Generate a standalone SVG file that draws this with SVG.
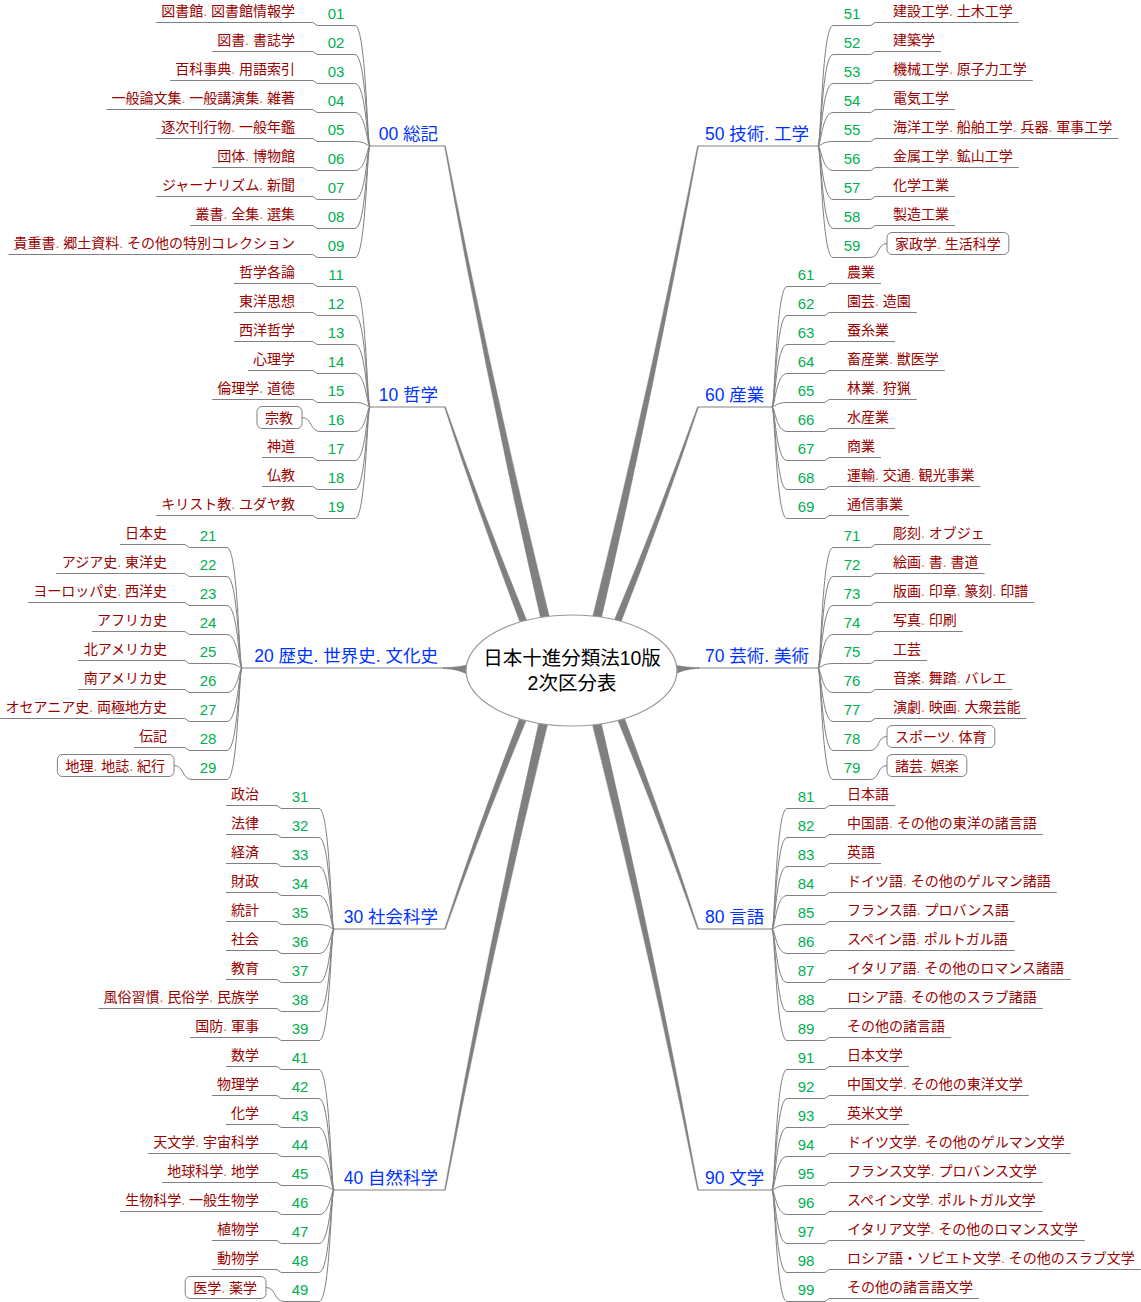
<svg xmlns="http://www.w3.org/2000/svg" width="1141" height="1302" viewBox="0 0 1141 1302">
<style>
.ln{fill:none;stroke:#808080;stroke-width:1}
.br{fill:#808080;stroke:#808080;stroke-width:0.4;stroke-linejoin:round}
.it{font-family:"Liberation Sans","Noto Sans CJK JP",sans-serif;font-size:14px;fill:#990000}
.l{text-anchor:end}
.d{fill:#e46c0a}
.nm{font-family:"Liberation Sans","Noto Sans CJK JP",sans-serif;font-size:15px;fill:#00b050;text-anchor:middle}
.lb{font-family:"Liberation Sans","Noto Sans CJK JP",sans-serif;font-size:17.5px;fill:#0033ff}
.bx{fill:#fff;stroke:#808080;stroke-width:1}
.ct{font-family:"Liberation Sans","Noto Sans CJK JP",sans-serif;font-size:19.5px;fill:#000;text-anchor:middle}
</style>
<rect width="1141" height="1302" fill="#fff"/>
<g id="connectors">
<path class="br" d="M444.5,146.1Q486.7,383.2 541.6,622.8L550.4,621Q491.5,382.2 445.5,145.9Z"/>
<path class="br" d="M444.5,407.2Q479.3,515.2 521.4,625.9L528,623.5Q483.1,513.8 445.5,406.8Z"/>
<path class="br" d="M443,667.6Q460,667.4 470,664L470,676Q460,669 443,668.4Z"/>
<path class="br" d="M444.5,928.8Q478.8,823.8 520.4,716.1L527,718.5Q482.6,825.2 445.5,929.2Z"/>
<path class="br" d="M444.5,1189.9Q485.7,955.8 539.6,719.2L548.4,721Q490.5,956.8 445.5,1190.1Z"/>
<path class="br" d="M698.5,146.1Q655.8,383.3 600.4,622.8L591.6,621Q651,382.3 697.5,145.9Z"/>
<path class="br" d="M698.5,407.2Q662.7,515.2 619.5,625.9L612.9,623.5Q658.9,513.8 697.5,406.8Z"/>
<path class="br" d="M699,667.6Q682,667.4 672,664L672,676Q682,669 699,668.4Z"/>
<path class="br" d="M698.5,928.8Q664.7,823.8 623.6,716.1L617,718.5Q660.9,825.2 697.5,929.2Z"/>
<path class="br" d="M698.5,1189.9Q655.8,955.7 600.3,719.1L591.5,721.1Q651,956.7 697.5,1190.1Z"/>
<path class="ln" d="M370,146H445M370,407H445M242,668H445M334,929H445M334,1190H445M698,146H818M698,407H772M697,668H818M698,929H772M698,1190H772"/>
<g class="ln" transform="translate(370,146)">
<path d="M-213.8,-123.5H-58C-55,-123.5 -55,-120.5 -52,-120.5H-15C-4,-120.5 -3,0 0,0"/>
<path d="M-157.8,-94.5H-58C-55,-94.5 -55,-91.5 -52,-91.5H-15C-4,-91.5 -3,0 0,0"/>
<path d="M-199.8,-65.5H-58C-55,-65.5 -55,-62.5 -52,-62.5H-15C-4,-62.5 -3,0 0,0"/>
<path d="M-263.6,-36.5H-58C-55,-36.5 -55,-33.5 -52,-33.5H-15C-4,-33.5 -3,0 0,0"/>
<path d="M-213.8,-7.5H-58C-55,-7.5 -55,-4.5 -52,-4.5H-15C-4,-4.5 -3,0 0,0"/>
<path d="M-157.8,21.5H-58C-55,21.5 -55,24.5 -52,24.5H-15C-4,24.5 -3,0 0,0"/>
<path d="M-213.8,50.5H-58C-55,50.5 -55,53.5 -52,53.5H-15C-4,53.5 -3,0 0,0"/>
<path d="M-179.6,79.5H-58C-55,79.5 -55,82.5 -52,82.5H-15C-4,82.5 -3,0 0,0"/>
<path d="M-361.6,108.5H-58C-55,108.5 -55,111.5 -52,111.5H-15C-4,111.5 -3,0 0,0"/>
</g>
<g class="ln" transform="translate(370,407)">
<path d="M-136,-123.5H-58C-55,-123.5 -55,-120.5 -52,-120.5H-15C-4,-120.5 -3,0 0,0"/>
<path d="M-136,-94.5H-58C-55,-94.5 -55,-91.5 -52,-91.5H-15C-4,-91.5 -3,0 0,0"/>
<path d="M-136,-65.5H-58C-55,-65.5 -55,-62.5 -52,-62.5H-15C-4,-62.5 -3,0 0,0"/>
<path d="M-122,-36.5H-58C-55,-36.5 -55,-33.5 -52,-33.5H-15C-4,-33.5 -3,0 0,0"/>
<path d="M-157.8,-7.5H-58C-55,-7.5 -55,-4.5 -52,-4.5H-15C-4,-4.5 -3,0 0,0"/>
<path d="M-68,10.5C-58,10.5 -60,24.5 -50,24.5H-15C-4,24.5 -3,0 0,0"/>
<path d="M-108,50.5H-58C-55,50.5 -55,53.5 -52,53.5H-15C-4,53.5 -3,0 0,0"/>
<path d="M-108,79.5H-58C-55,79.5 -55,82.5 -52,82.5H-15C-4,82.5 -3,0 0,0"/>
<path d="M-213.8,108.5H-58C-55,108.5 -55,111.5 -52,111.5H-15C-4,111.5 -3,0 0,0"/>
</g>
<g class="ln" transform="translate(242,668)">
<path d="M-122,-123.5H-58C-55,-123.5 -55,-120.5 -52,-120.5H-15C-4,-120.5 -3,0 0,0"/>
<path d="M-185.8,-94.5H-58C-55,-94.5 -55,-91.5 -52,-91.5H-15C-4,-91.5 -3,0 0,0"/>
<path d="M-213.8,-65.5H-58C-55,-65.5 -55,-62.5 -52,-62.5H-15C-4,-62.5 -3,0 0,0"/>
<path d="M-150,-36.5H-58C-55,-36.5 -55,-33.5 -52,-33.5H-15C-4,-33.5 -3,0 0,0"/>
<path d="M-164,-7.5H-58C-55,-7.5 -55,-4.5 -52,-4.5H-15C-4,-4.5 -3,0 0,0"/>
<path d="M-164,21.5H-58C-55,21.5 -55,24.5 -52,24.5H-15C-4,24.5 -3,0 0,0"/>
<path d="M-241.8,50.5H-58C-55,50.5 -55,53.5 -52,53.5H-15C-4,53.5 -3,0 0,0"/>
<path d="M-108,79.5H-58C-55,79.5 -55,82.5 -52,82.5H-15C-4,82.5 -3,0 0,0"/>
<path d="M-68,97.5C-58,97.5 -60,111.5 -50,111.5H-15C-4,111.5 -3,0 0,0"/>
</g>
<g class="ln" transform="translate(334,929)">
<path d="M-108,-123.5H-58C-55,-123.5 -55,-120.5 -52,-120.5H-15C-4,-120.5 -3,0 0,0"/>
<path d="M-108,-94.5H-58C-55,-94.5 -55,-91.5 -52,-91.5H-15C-4,-91.5 -3,0 0,0"/>
<path d="M-108,-65.5H-58C-55,-65.5 -55,-62.5 -52,-62.5H-15C-4,-62.5 -3,0 0,0"/>
<path d="M-108,-36.5H-58C-55,-36.5 -55,-33.5 -52,-33.5H-15C-4,-33.5 -3,0 0,0"/>
<path d="M-108,-7.5H-58C-55,-7.5 -55,-4.5 -52,-4.5H-15C-4,-4.5 -3,0 0,0"/>
<path d="M-108,21.5H-58C-55,21.5 -55,24.5 -52,24.5H-15C-4,24.5 -3,0 0,0"/>
<path d="M-108,50.5H-58C-55,50.5 -55,53.5 -52,53.5H-15C-4,53.5 -3,0 0,0"/>
<path d="M-235.6,79.5H-58C-55,79.5 -55,82.5 -52,82.5H-15C-4,82.5 -3,0 0,0"/>
<path d="M-143.8,108.5H-58C-55,108.5 -55,111.5 -52,111.5H-15C-4,111.5 -3,0 0,0"/>
</g>
<g class="ln" transform="translate(334,1190)">
<path d="M-108,-123.5H-58C-55,-123.5 -55,-120.5 -52,-120.5H-15C-4,-120.5 -3,0 0,0"/>
<path d="M-122,-94.5H-58C-55,-94.5 -55,-91.5 -52,-91.5H-15C-4,-91.5 -3,0 0,0"/>
<path d="M-108,-65.5H-58C-55,-65.5 -55,-62.5 -52,-62.5H-15C-4,-62.5 -3,0 0,0"/>
<path d="M-185.8,-36.5H-58C-55,-36.5 -55,-33.5 -52,-33.5H-15C-4,-33.5 -3,0 0,0"/>
<path d="M-171.8,-7.5H-58C-55,-7.5 -55,-4.5 -52,-4.5H-15C-4,-4.5 -3,0 0,0"/>
<path d="M-213.8,21.5H-58C-55,21.5 -55,24.5 -52,24.5H-15C-4,24.5 -3,0 0,0"/>
<path d="M-122,50.5H-58C-55,50.5 -55,53.5 -52,53.5H-15C-4,53.5 -3,0 0,0"/>
<path d="M-122,79.5H-58C-55,79.5 -55,82.5 -52,82.5H-15C-4,82.5 -3,0 0,0"/>
<path d="M-68,97.5C-58,97.5 -60,111.5 -50,111.5H-15C-4,111.5 -3,0 0,0"/>
</g>
<g class="ln" transform="translate(818,146)">
<path d="M0,0C3,0 4,-120.5 15,-120.5H52C55,-120.5 55,-123.5 58,-123.5H200.8"/>
<path d="M0,0C3,0 4,-91.5 15,-91.5H52C55,-91.5 55,-94.5 58,-94.5H123"/>
<path d="M0,0C3,0 4,-62.5 15,-62.5H52C55,-62.5 55,-65.5 58,-65.5H214.8"/>
<path d="M0,0C3,0 4,-33.5 15,-33.5H52C55,-33.5 55,-36.5 58,-36.5H137"/>
<path d="M0,0C3,0 4,-4.5 15,-4.5H52C55,-4.5 55,-7.5 58,-7.5H300.4"/>
<path d="M0,0C3,0 4,24.5 15,24.5H52C55,24.5 55,21.5 58,21.5H200.8"/>
<path d="M0,0C3,0 4,53.5 15,53.5H52C55,53.5 55,50.5 58,50.5H137"/>
<path d="M0,0C3,0 4,82.5 15,82.5H52C55,82.5 55,79.5 58,79.5H137"/>
<path d="M0,0C3,0 4,111.5 15,111.5H52C62,111.5 59,97.5 69,97.5"/>
</g>
<g class="ln" transform="translate(772,407)">
<path d="M0,0C3,0 4,-120.5 15,-120.5H52C55,-120.5 55,-123.5 58,-123.5H109"/>
<path d="M0,0C3,0 4,-91.5 15,-91.5H52C55,-91.5 55,-94.5 58,-94.5H144.8"/>
<path d="M0,0C3,0 4,-62.5 15,-62.5H52C55,-62.5 55,-65.5 58,-65.5H123"/>
<path d="M0,0C3,0 4,-33.5 15,-33.5H52C55,-33.5 55,-36.5 58,-36.5H172.8"/>
<path d="M0,0C3,0 4,-4.5 15,-4.5H52C55,-4.5 55,-7.5 58,-7.5H144.8"/>
<path d="M0,0C3,0 4,24.5 15,24.5H52C55,24.5 55,21.5 58,21.5H123"/>
<path d="M0,0C3,0 4,53.5 15,53.5H52C55,53.5 55,50.5 58,50.5H109"/>
<path d="M0,0C3,0 4,82.5 15,82.5H52C55,82.5 55,79.5 58,79.5H208.6"/>
<path d="M0,0C3,0 4,111.5 15,111.5H52C55,111.5 55,108.5 58,108.5H137"/>
</g>
<g class="ln" transform="translate(818,668)">
<path d="M0,0C3,0 4,-120.5 15,-120.5H52C55,-120.5 55,-123.5 58,-123.5H172.8"/>
<path d="M0,0C3,0 4,-91.5 15,-91.5H52C55,-91.5 55,-94.5 58,-94.5H166.6"/>
<path d="M0,0C3,0 4,-62.5 15,-62.5H52C55,-62.5 55,-65.5 58,-65.5H216.4"/>
<path d="M0,0C3,0 4,-33.5 15,-33.5H52C55,-33.5 55,-36.5 58,-36.5H144.8"/>
<path d="M0,0C3,0 4,-4.5 15,-4.5H52C55,-4.5 55,-7.5 58,-7.5H109"/>
<path d="M0,0C3,0 4,24.5 15,24.5H52C55,24.5 55,21.5 58,21.5H194.6"/>
<path d="M0,0C3,0 4,53.5 15,53.5H52C55,53.5 55,50.5 58,50.5H208.6"/>
<path d="M0,0C3,0 4,82.5 15,82.5H52C62,82.5 59,68.5 69,68.5"/>
<path d="M0,0C3,0 4,111.5 15,111.5H52C62,111.5 59,97.5 69,97.5"/>
</g>
<g class="ln" transform="translate(772,929)">
<path d="M0,0C3,0 4,-120.5 15,-120.5H52C55,-120.5 55,-123.5 58,-123.5H123"/>
<path d="M0,0C3,0 4,-91.5 15,-91.5H52C55,-91.5 55,-94.5 58,-94.5H270.8"/>
<path d="M0,0C3,0 4,-62.5 15,-62.5H52C55,-62.5 55,-65.5 58,-65.5H109"/>
<path d="M0,0C3,0 4,-33.5 15,-33.5H52C55,-33.5 55,-36.5 58,-36.5H284.8"/>
<path d="M0,0C3,0 4,-4.5 15,-4.5H52C55,-4.5 55,-7.5 58,-7.5H242.8"/>
<path d="M0,0C3,0 4,24.5 15,24.5H52C55,24.5 55,21.5 58,21.5H242.8"/>
<path d="M0,0C3,0 4,53.5 15,53.5H52C55,53.5 55,50.5 58,50.5H298.8"/>
<path d="M0,0C3,0 4,82.5 15,82.5H52C55,82.5 55,79.5 58,79.5H270.8"/>
<path d="M0,0C3,0 4,111.5 15,111.5H52C55,111.5 55,108.5 58,108.5H179"/>
</g>
<g class="ln" transform="translate(772,1190)">
<path d="M0,0C3,0 4,-120.5 15,-120.5H52C55,-120.5 55,-123.5 58,-123.5H137"/>
<path d="M0,0C3,0 4,-91.5 15,-91.5H52C55,-91.5 55,-94.5 58,-94.5H256.8"/>
<path d="M0,0C3,0 4,-62.5 15,-62.5H52C55,-62.5 55,-65.5 58,-65.5H137"/>
<path d="M0,0C3,0 4,-33.5 15,-33.5H52C55,-33.5 55,-36.5 58,-36.5H298.8"/>
<path d="M0,0C3,0 4,-4.5 15,-4.5H52C55,-4.5 55,-7.5 58,-7.5H270.8"/>
<path d="M0,0C3,0 4,24.5 15,24.5H52C55,24.5 55,21.5 58,21.5H270.8"/>
<path d="M0,0C3,0 4,53.5 15,53.5H52C55,53.5 55,50.5 58,50.5H312.8"/>
<path d="M0,0C3,0 4,82.5 15,82.5H52C55,82.5 55,79.5 58,79.5H368.8"/>
<path d="M0,0C3,0 4,111.5 15,111.5H52C55,111.5 55,108.5 58,108.5H207"/>
</g>
</g>
<g id="nodes">
<g id="center"><ellipse cx="571.5" cy="670.5" rx="105.5" ry="55.5" fill="#fff" stroke="#999" stroke-width="1.2"/><text class="ct" x="572" y="665">日本十進分類法10版</text><text class="ct" x="572" y="690">2次区分表</text></g>
<g id="b00"><text class="lb l" x="438" y="140">00 総記</text></g>
<g id="b10"><text class="lb l" x="438" y="401">10 哲学</text></g>
<g id="b20"><text class="lb l" x="438" y="662">20 歴史. 世界史. 文化史</text></g>
<g id="b30"><text class="lb l" x="438" y="923">30 社会科学</text></g>
<g id="b40"><text class="lb l" x="438" y="1184">40 自然科学</text></g>
<g id="b50"><text class="lb" x="705" y="140">50 技術. 工学</text></g>
<g id="b60"><text class="lb" x="705" y="401">60 産業</text></g>
<g id="b70"><text class="lb" x="705" y="662">70 芸術. 美術</text></g>
<g id="b80"><text class="lb" x="705" y="923">80 言語</text></g>
<g id="b90"><text class="lb" x="705" y="1184">90 文学</text></g>
<g transform="translate(370,146)">
<g id="n01"><text class="it l" x="-75" y="-130">図書館<tspan class="d">.</tspan> 図書館情報学</text><text class="nm" x="-34" y="-127">01</text></g>
<g id="n02"><text class="it l" x="-75" y="-101">図書<tspan class="d">.</tspan> 書誌学</text><text class="nm" x="-34" y="-98">02</text></g>
<g id="n03"><text class="it l" x="-75" y="-72">百科事典<tspan class="d">.</tspan> 用語索引</text><text class="nm" x="-34" y="-69">03</text></g>
<g id="n04"><text class="it l" x="-75" y="-43">一般論文集<tspan class="d">.</tspan> 一般講演集<tspan class="d">.</tspan> 雑著</text><text class="nm" x="-34" y="-40">04</text></g>
<g id="n05"><text class="it l" x="-75" y="-14">逐次刊行物<tspan class="d">.</tspan> 一般年鑑</text><text class="nm" x="-34" y="-11">05</text></g>
<g id="n06"><text class="it l" x="-75" y="15">団体<tspan class="d">.</tspan> 博物館</text><text class="nm" x="-34" y="18">06</text></g>
<g id="n07"><text class="it l" x="-75" y="44">ジャーナリズム<tspan class="d">.</tspan> 新聞</text><text class="nm" x="-34" y="47">07</text></g>
<g id="n08"><text class="it l" x="-75" y="73">叢書<tspan class="d">.</tspan> 全集<tspan class="d">.</tspan> 選集</text><text class="nm" x="-34" y="76">08</text></g>
<g id="n09"><text class="it l" x="-75" y="102">貴重書<tspan class="d">.</tspan> 郷土資料<tspan class="d">.</tspan> その他の特別コレクション</text><text class="nm" x="-34" y="105">09</text></g>
</g>
<g transform="translate(370,407)">
<g id="n11"><text class="it l" x="-75" y="-130">哲学各論</text><text class="nm" x="-34" y="-127">11</text></g>
<g id="n12"><text class="it l" x="-75" y="-101">東洋思想</text><text class="nm" x="-34" y="-98">12</text></g>
<g id="n13"><text class="it l" x="-75" y="-72">西洋哲学</text><text class="nm" x="-34" y="-69">13</text></g>
<g id="n14"><text class="it l" x="-75" y="-43">心理学</text><text class="nm" x="-34" y="-40">14</text></g>
<g id="n15"><text class="it l" x="-75" y="-14">倫理学<tspan class="d">.</tspan> 道徳</text><text class="nm" x="-34" y="-11">15</text></g>
<g id="n16"><rect class="bx" x="-113" y="-0.5" width="45" height="22" rx="5"/><text class="it l" x="-77" y="15.5">宗教</text><text class="nm" x="-34" y="18">16</text></g>
<g id="n17"><text class="it l" x="-75" y="44">神道</text><text class="nm" x="-34" y="47">17</text></g>
<g id="n18"><text class="it l" x="-75" y="73">仏教</text><text class="nm" x="-34" y="76">18</text></g>
<g id="n19"><text class="it l" x="-75" y="102">キリスト教<tspan class="d">.</tspan> ユダヤ教</text><text class="nm" x="-34" y="105">19</text></g>
</g>
<g transform="translate(242,668)">
<g id="n21"><text class="it l" x="-75" y="-130">日本史</text><text class="nm" x="-34" y="-127">21</text></g>
<g id="n22"><text class="it l" x="-75" y="-101">アジア史<tspan class="d">.</tspan> 東洋史</text><text class="nm" x="-34" y="-98">22</text></g>
<g id="n23"><text class="it l" x="-75" y="-72">ヨーロッパ史<tspan class="d">.</tspan> 西洋史</text><text class="nm" x="-34" y="-69">23</text></g>
<g id="n24"><text class="it l" x="-75" y="-43">アフリカ史</text><text class="nm" x="-34" y="-40">24</text></g>
<g id="n25"><text class="it l" x="-75" y="-14">北アメリカ史</text><text class="nm" x="-34" y="-11">25</text></g>
<g id="n26"><text class="it l" x="-75" y="15">南アメリカ史</text><text class="nm" x="-34" y="18">26</text></g>
<g id="n27"><text class="it l" x="-75" y="44">オセアニア史<tspan class="d">.</tspan> 両極地方史</text><text class="nm" x="-34" y="47">27</text></g>
<g id="n28"><text class="it l" x="-75" y="73">伝記</text><text class="nm" x="-34" y="76">28</text></g>
<g id="n29"><rect class="bx" x="-184.6" y="86.5" width="116.6" height="22" rx="5"/><text class="it l" x="-77" y="102.5">地理<tspan class="d">.</tspan> 地誌<tspan class="d">.</tspan> 紀行</text><text class="nm" x="-34" y="105">29</text></g>
</g>
<g transform="translate(334,929)">
<g id="n31"><text class="it l" x="-75" y="-130">政治</text><text class="nm" x="-34" y="-127">31</text></g>
<g id="n32"><text class="it l" x="-75" y="-101">法律</text><text class="nm" x="-34" y="-98">32</text></g>
<g id="n33"><text class="it l" x="-75" y="-72">経済</text><text class="nm" x="-34" y="-69">33</text></g>
<g id="n34"><text class="it l" x="-75" y="-43">財政</text><text class="nm" x="-34" y="-40">34</text></g>
<g id="n35"><text class="it l" x="-75" y="-14">統計</text><text class="nm" x="-34" y="-11">35</text></g>
<g id="n36"><text class="it l" x="-75" y="15">社会</text><text class="nm" x="-34" y="18">36</text></g>
<g id="n37"><text class="it l" x="-75" y="44">教育</text><text class="nm" x="-34" y="47">37</text></g>
<g id="n38"><text class="it l" x="-75" y="73">風俗習慣<tspan class="d">.</tspan> 民俗学<tspan class="d">.</tspan> 民族学</text><text class="nm" x="-34" y="76">38</text></g>
<g id="n39"><text class="it l" x="-75" y="102">国防<tspan class="d">.</tspan> 軍事</text><text class="nm" x="-34" y="105">39</text></g>
</g>
<g transform="translate(334,1190)">
<g id="n41"><text class="it l" x="-75" y="-130">数学</text><text class="nm" x="-34" y="-127">41</text></g>
<g id="n42"><text class="it l" x="-75" y="-101">物理学</text><text class="nm" x="-34" y="-98">42</text></g>
<g id="n43"><text class="it l" x="-75" y="-72">化学</text><text class="nm" x="-34" y="-69">43</text></g>
<g id="n44"><text class="it l" x="-75" y="-43">天文学<tspan class="d">.</tspan> 宇宙科学</text><text class="nm" x="-34" y="-40">44</text></g>
<g id="n45"><text class="it l" x="-75" y="-14">地球科学<tspan class="d">.</tspan> 地学</text><text class="nm" x="-34" y="-11">45</text></g>
<g id="n46"><text class="it l" x="-75" y="15">生物科学<tspan class="d">.</tspan> 一般生物学</text><text class="nm" x="-34" y="18">46</text></g>
<g id="n47"><text class="it l" x="-75" y="44">植物学</text><text class="nm" x="-34" y="47">47</text></g>
<g id="n48"><text class="it l" x="-75" y="73">動物学</text><text class="nm" x="-34" y="76">48</text></g>
<g id="n49"><rect class="bx" x="-148.8" y="86.5" width="80.8" height="22" rx="5"/><text class="it l" x="-77" y="102.5">医学<tspan class="d">.</tspan> 薬学</text><text class="nm" x="-34" y="105">49</text></g>
</g>
<g transform="translate(818,146)">
<g id="n51"><text class="it" x="75" y="-130">建設工学<tspan class="d">.</tspan> 土木工学</text><text class="nm" x="34" y="-127">51</text></g>
<g id="n52"><text class="it" x="75" y="-101">建築学</text><text class="nm" x="34" y="-98">52</text></g>
<g id="n53"><text class="it" x="75" y="-72">機械工学<tspan class="d">.</tspan> 原子力工学</text><text class="nm" x="34" y="-69">53</text></g>
<g id="n54"><text class="it" x="75" y="-43">電気工学</text><text class="nm" x="34" y="-40">54</text></g>
<g id="n55"><text class="it" x="75" y="-14">海洋工学<tspan class="d">.</tspan> 船舶工学<tspan class="d">.</tspan> 兵器<tspan class="d">.</tspan> 軍事工学</text><text class="nm" x="34" y="-11">55</text></g>
<g id="n56"><text class="it" x="75" y="15">金属工学<tspan class="d">.</tspan> 鉱山工学</text><text class="nm" x="34" y="18">56</text></g>
<g id="n57"><text class="it" x="75" y="44">化学工業</text><text class="nm" x="34" y="47">57</text></g>
<g id="n58"><text class="it" x="75" y="73">製造工業</text><text class="nm" x="34" y="76">58</text></g>
<g id="n59"><rect class="bx" x="69" y="86.5" width="121.8" height="22" rx="5"/><text class="it" x="77" y="102.5">家政学<tspan class="d">.</tspan> 生活科学</text><text class="nm" x="34" y="105">59</text></g>
</g>
<g transform="translate(772,407)">
<g id="n61"><text class="it" x="75" y="-130">農業</text><text class="nm" x="34" y="-127">61</text></g>
<g id="n62"><text class="it" x="75" y="-101">園芸<tspan class="d">.</tspan> 造園</text><text class="nm" x="34" y="-98">62</text></g>
<g id="n63"><text class="it" x="75" y="-72">蚕糸業</text><text class="nm" x="34" y="-69">63</text></g>
<g id="n64"><text class="it" x="75" y="-43">畜産業<tspan class="d">.</tspan> 獣医学</text><text class="nm" x="34" y="-40">64</text></g>
<g id="n65"><text class="it" x="75" y="-14">林業<tspan class="d">.</tspan> 狩猟</text><text class="nm" x="34" y="-11">65</text></g>
<g id="n66"><text class="it" x="75" y="15">水産業</text><text class="nm" x="34" y="18">66</text></g>
<g id="n67"><text class="it" x="75" y="44">商業</text><text class="nm" x="34" y="47">67</text></g>
<g id="n68"><text class="it" x="75" y="73">運輸<tspan class="d">.</tspan> 交通<tspan class="d">.</tspan> 観光事業</text><text class="nm" x="34" y="76">68</text></g>
<g id="n69"><text class="it" x="75" y="102">通信事業</text><text class="nm" x="34" y="105">69</text></g>
</g>
<g transform="translate(818,668)">
<g id="n71"><text class="it" x="75" y="-130">彫刻<tspan class="d">.</tspan> オブジェ</text><text class="nm" x="34" y="-127">71</text></g>
<g id="n72"><text class="it" x="75" y="-101">絵画<tspan class="d">.</tspan> 書<tspan class="d">.</tspan> 書道</text><text class="nm" x="34" y="-98">72</text></g>
<g id="n73"><text class="it" x="75" y="-72">版画<tspan class="d">.</tspan> 印章<tspan class="d">.</tspan> 篆刻<tspan class="d">.</tspan> 印譜</text><text class="nm" x="34" y="-69">73</text></g>
<g id="n74"><text class="it" x="75" y="-43">写真<tspan class="d">.</tspan> 印刷</text><text class="nm" x="34" y="-40">74</text></g>
<g id="n75"><text class="it" x="75" y="-14">工芸</text><text class="nm" x="34" y="-11">75</text></g>
<g id="n76"><text class="it" x="75" y="15">音楽<tspan class="d">.</tspan> 舞踏<tspan class="d">.</tspan> バレエ</text><text class="nm" x="34" y="18">76</text></g>
<g id="n77"><text class="it" x="75" y="44">演劇<tspan class="d">.</tspan> 映画<tspan class="d">.</tspan> 大衆芸能</text><text class="nm" x="34" y="47">77</text></g>
<g id="n78"><rect class="bx" x="69" y="57.5" width="107.8" height="22" rx="5"/><text class="it" x="77" y="73.5">スポーツ<tspan class="d">.</tspan> 体育</text><text class="nm" x="34" y="76">78</text></g>
<g id="n79"><rect class="bx" x="69" y="86.5" width="79.8" height="22" rx="5"/><text class="it" x="77" y="102.5">諸芸<tspan class="d">.</tspan> 娯楽</text><text class="nm" x="34" y="105">79</text></g>
</g>
<g transform="translate(772,929)">
<g id="n81"><text class="it" x="75" y="-130">日本語</text><text class="nm" x="34" y="-127">81</text></g>
<g id="n82"><text class="it" x="75" y="-101">中国語<tspan class="d">.</tspan> その他の東洋の諸言語</text><text class="nm" x="34" y="-98">82</text></g>
<g id="n83"><text class="it" x="75" y="-72">英語</text><text class="nm" x="34" y="-69">83</text></g>
<g id="n84"><text class="it" x="75" y="-43">ドイツ語<tspan class="d">.</tspan> その他のゲルマン諸語</text><text class="nm" x="34" y="-40">84</text></g>
<g id="n85"><text class="it" x="75" y="-14">フランス語<tspan class="d">.</tspan> プロバンス語</text><text class="nm" x="34" y="-11">85</text></g>
<g id="n86"><text class="it" x="75" y="15">スペイン語<tspan class="d">.</tspan> ポルトガル語</text><text class="nm" x="34" y="18">86</text></g>
<g id="n87"><text class="it" x="75" y="44">イタリア語<tspan class="d">.</tspan> その他のロマンス諸語</text><text class="nm" x="34" y="47">87</text></g>
<g id="n88"><text class="it" x="75" y="73">ロシア語<tspan class="d">.</tspan> その他のスラブ諸語</text><text class="nm" x="34" y="76">88</text></g>
<g id="n89"><text class="it" x="75" y="102">その他の諸言語</text><text class="nm" x="34" y="105">89</text></g>
</g>
<g transform="translate(772,1190)">
<g id="n91"><text class="it" x="75" y="-130">日本文学</text><text class="nm" x="34" y="-127">91</text></g>
<g id="n92"><text class="it" x="75" y="-101">中国文学<tspan class="d">.</tspan> その他の東洋文学</text><text class="nm" x="34" y="-98">92</text></g>
<g id="n93"><text class="it" x="75" y="-72">英米文学</text><text class="nm" x="34" y="-69">93</text></g>
<g id="n94"><text class="it" x="75" y="-43">ドイツ文学<tspan class="d">.</tspan> その他のゲルマン文学</text><text class="nm" x="34" y="-40">94</text></g>
<g id="n95"><text class="it" x="75" y="-14">フランス文学<tspan class="d">.</tspan> プロバンス文学</text><text class="nm" x="34" y="-11">95</text></g>
<g id="n96"><text class="it" x="75" y="15">スペイン文学<tspan class="d">.</tspan> ポルトガル文学</text><text class="nm" x="34" y="18">96</text></g>
<g id="n97"><text class="it" x="75" y="44">イタリア文学<tspan class="d">.</tspan> その他のロマンス文学</text><text class="nm" x="34" y="47">97</text></g>
<g id="n98"><text class="it" x="75" y="73">ロシア語・ソビエト文学<tspan class="d">.</tspan> その他のスラブ文学</text><text class="nm" x="34" y="76">98</text></g>
<g id="n99"><text class="it" x="75" y="102">その他の諸言語文学</text><text class="nm" x="34" y="105">99</text></g>
</g>
</g>
</svg>
